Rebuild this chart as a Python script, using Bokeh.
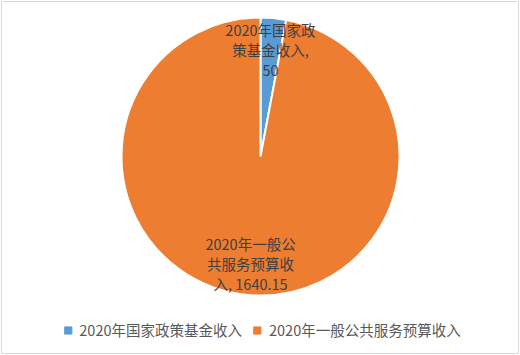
import math
from bokeh.plotting import figure
from bokeh.models import Range1d, Legend, LegendItem, ColumnDataSource
from bokeh.core.properties import value
from bokeh.embed import file_html
from bokeh.resources import INLINE

# ---- data ----
categories = ["2020年国家政策基金收入", "2020年一般公共服务预算收入"]
values = [50, 1640.15]
value_labels = ["50", "1640.15"]
colors = ["#5B9BD5", "#ED7D31"]

# ---- layout constants ----
W, H = 520, 355
FONT = "Noto Sans CJK SC"
CX, CY, R = 259, 197, 139
LABEL_FRAC = 0.77


def wrap(s, maxw=12):
    lines, cur, w = [], "", 0
    for ch in s:
        cw = 1 if ord(ch) < 256 else 2
        if w + cw > maxw:
            lines.append(cur.strip())
            cur, w = "", 0
        cur += ch
        w += cw
    if cur.strip():
        lines.append(cur.strip())
    return "\n".join(lines)


total = sum(values)
starts, ends, lx, ly, labels = [], [], [], [], []
cum = 0.0
for c, v, vl in zip(categories, values, value_labels):
    f0 = cum / total
    cum += v
    f1 = cum / total
    starts.append(math.pi / 2 - f0 * 2 * math.pi)
    ends.append(math.pi / 2 - f1 * 2 * math.pi)
    mid = math.pi / 2 - (f0 + f1) / 2 * 2 * math.pi
    lx.append(CX + LABEL_FRAC * R * math.cos(mid))
    ly.append(CY + LABEL_FRAC * R * math.sin(mid))
    labels.append(wrap(f"{c}, {vl}"))

src = ColumnDataSource(dict(cat=categories, val=values, start=starts, end=ends,
                            color=colors, lx=lx, ly=ly, label=labels,
                            nx=[float("nan")] * 2, ny=[float("nan")] * 2))

p = figure(width=W, height=H, output_backend="svg", toolbar_location=None,
           x_range=Range1d(0, 517), y_range=Range1d(0, 352),
           min_border_left=1, min_border_right=2, min_border_top=1, min_border_bottom=2)
p.axis.visible = False
p.grid.visible = False
p.outline_line_color = "#d9d9d9"
p.outline_line_width = 1
p.background_fill_color = "white"
p.border_fill_color = "white"

p.wedge(x=CX, y=CY, radius=R, start_angle="start", end_angle="end",
        direction="clock", fill_color="color", line_color="white",
        line_width=2, source=src)

p.text(x="lx", y="ly", text="label", source=src, text_align="center",
       text_baseline="middle", text_font=value(FONT), text_font_size="14.5px",
       text_color="#404040", text_line_height=0.95)

leg_r = p.scatter(x="nx", y="ny", marker="square", color="color", source=src)
items = [LegendItem(label=c, renderers=[leg_r], index=i) for i, c in enumerate(categories)]
legend = Legend(items=items, orientation="horizontal", location="bottom_center",
                label_text_font=FONT, label_text_font_size="14.5px",
                label_text_color="#595959", glyph_width=18, glyph_height=18,
                label_standoff=3, spacing=6, padding=0, margin=13,
                border_line_color=None, background_fill_alpha=0)
p.add_layout(legend, "center")

open("out.html", "w").write(file_html(p, INLINE))
